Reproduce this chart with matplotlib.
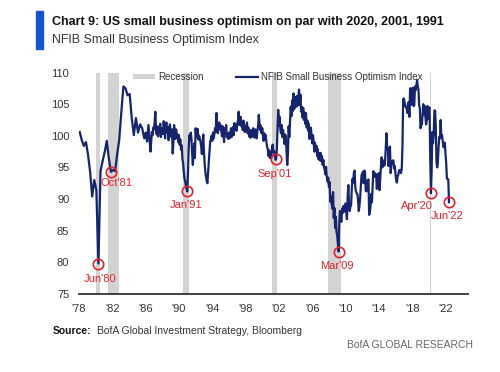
import matplotlib
matplotlib.use("Agg")
import matplotlib.pyplot as plt
from matplotlib.patches import Patch, Rectangle
from matplotlib.lines import Line2D
import numpy as np

plt.rcParams["font.family"] = ["Liberation Sans", "DejaVu Sans"]

# ---------------- data ----------------
# quarterly index 1978Q1-1985Q4
q_1978_1985 = [100.6, 99.3, 98.4, 99.0,
               97.0, 94.3, 90.4, 93.0,
               91.4, 79.8, 94.4, 96.0,
               97.4, 99.2, 96.4, 94.3,
               94.6, 94.4, 97.1, 99.4,
               103.8, 107.8, 107.5, 106.4,
               106.6, 102.8, 100.1, 102.8,
               100.5, 101.8, 101.2, 99.6]

m_1986_1995 = [100.5, 99.8, 99.1, 100.4, 101.7, 100.2, 98.9, 97.5, 99.0, 100.6, 100.1, 101.3,
               101.0, 102.2, 103.8, 100.8, 100.2, 101.5, 99.9, 101.4, 100.6, 101.9, 99.8, 100.7,
               101.2, 100.3, 102.3, 100.9, 99.6, 101.7, 102.1, 100.5, 101.4, 99.3, 100.9, 101.8,
               100.6, 99.8, 101.0, 97.2, 99.1, 101.7, 100.4, 99.5, 101.0, 99.7, 100.2, 99.0,
               100.1, 98.6, 99.4, 97.8, 98.5, 96.3, 95.7, 94.2, 93.2, 92.8, 92.1, 91.6,
               91.2, 94.2, 97.9, 100.1, 99.4, 100.5, 99.6, 97.2, 95.4, 97.0, 98.8, 96.5,
               101.2, 99.8, 100.5, 101.1, 99.4, 100.0, 99.6, 99.1, 98.3, 97.1, 98.5, 100.2,
               97.5, 95.6, 94.3, 93.5, 92.8, 92.5, 94.1, 95.9, 97.6, 99.1, 99.4, 100.0,
               99.2, 100.5, 99.6, 100.3, 101.2, 100.6, 103.6, 101.5, 100.4, 101.3, 102.1, 101.0,
               101.7, 100.8, 99.9, 101.5, 100.4, 99.0, 101.2, 100.3, 101.7, 99.8, 100.1, 99.5]

m_1996_2005 = [100.5, 99.6, 100.3, 101.2, 99.8, 100.7, 101.4, 100.1, 102.0, 100.9, 101.6, 100.8,
               101.9, 102.4, 103.8, 101.7, 102.6, 103.0, 101.5, 102.1, 100.9, 102.4, 101.0, 100.6,
               101.6, 100.9, 102.1, 100.4, 101.3, 99.9, 100.6, 99.7, 100.9, 99.8, 100.5, 101.2,
               100.3, 99.7, 101.0, 100.2, 99.6, 100.8, 101.5, 103.3, 102.0, 100.9, 101.6, 100.4,
               101.2, 100.1, 99.2, 100.4, 99.6, 100.1, 99.0, 98.2, 97.9, 96.8, 97.7, 96.5,
               97.3, 96.5, 97.9, 98.6, 97.4, 97.6, 97.1, 96.2, 96.3, 97.9, 101.2, 104.1,
               101.6, 103.0, 101.1, 100.4, 101.7, 99.8, 100.9, 99.9, 98.7, 100.2, 99.9, 97.4,
               95.4, 97.2, 101.5, 99.8, 102.3, 104.6, 103.1, 105.6, 103.9, 106.7, 104.2, 105.9,
               106.1, 104.6, 106.3, 104.8, 105.9, 107.3, 104.9, 106.5, 103.8, 104.6, 102.9, 104.4,
               102.5, 103.7, 101.9, 103.6, 101.3, 102.4, 100.8, 101.9, 99.5, 100.6, 101.3, 100.2]

m_2006_2015 = [98.8, 100.1, 99.2, 97.5, 98.9, 97.6, 98.4, 96.8, 97.9, 96.3, 97.2, 96.1,
               97.3, 96.0, 96.8, 95.4, 96.2, 95.0, 94.6, 93.9, 95.1, 93.5, 92.8, 93.4,
               91.9, 92.7, 89.6, 90.4, 89.3, 88.5, 91.1, 87.0, 88.6, 85.4, 87.2, 84.8,
               84.2, 82.9, 81.7, 86.4, 88.1, 87.0, 86.4, 88.5, 87.8, 88.9, 88.3, 88.0,
               89.3, 88.0, 86.8, 90.2, 92.2, 89.0, 88.1, 88.8, 89.0, 91.7, 93.2, 92.6,
               94.1, 94.5, 91.9, 91.2, 90.9, 90.8, 89.9, 88.1, 88.9, 90.2, 92.0, 93.8,
               93.9, 94.3, 92.5, 94.5, 94.4, 91.4, 91.2, 92.9, 92.8, 93.1, 87.5, 88.0,
               88.9, 90.8, 89.5, 92.1, 94.4, 93.5, 94.1, 94.0, 93.9, 91.6, 92.5, 93.9,
               94.1, 91.4, 93.4, 95.2, 96.6, 95.0, 95.7, 96.1, 95.3, 96.1, 98.1, 100.4,
               97.9, 98.0, 95.2, 96.9, 98.3, 94.1, 95.4, 95.9, 96.1, 96.1, 94.8, 95.2]

m_2016_2022 = [93.9, 92.9, 92.6, 93.6, 93.8, 94.5, 94.6, 94.4, 94.1, 94.9, 98.4, 105.8,
               105.9, 105.3, 104.7, 104.5, 104.5, 103.6, 105.2, 105.3, 103.0, 107.5, 107.5, 104.9,
               106.9, 107.6, 104.7, 104.8, 107.8, 107.2, 107.9, 108.8, 107.9, 107.4, 104.8, 104.4,
               101.2, 101.7, 101.8, 103.5, 105.0, 103.3, 104.7, 103.1, 101.8, 102.4, 104.7, 102.7,
               104.3, 104.5, 96.4, 90.9, 94.4, 100.6, 98.8, 100.2, 104.0, 104.0, 101.4, 95.9,
               95.0, 95.8, 98.2, 99.8, 99.6, 102.5, 99.7, 100.1, 99.1, 98.2, 98.4, 98.9,
               97.1, 95.7, 93.2, 93.2, 93.1, 89.5]

rec_start = [1980.00, 1981.50, 1990.50, 2001.17, 2007.92, 2020.08]
rec_end = [1980.50, 1982.83, 1991.17, 2001.83, 2009.42, 2020.25]

ann_labels = ["Jun'80", "Oct'81", "Jan'91", "Sep'01", "Mar'09", "Apr'20", "Jun'22"]
ann_dates = [1980.33, 1981.83, 1991.00, 2001.67, 2009.17, 2020.25, 2022.42]

xtick_years = list(range(1978, 2023, 4))
ytick_vals = [75, 80, 85, 90, 95, 100, 105, 110]

# ------------- build series -------------
q_dates = [1978 + i * 0.25 + 1 / 12 for i in range(len(q_1978_1985))]
monthly = m_1986_1995 + m_1996_2005 + m_2006_2015 + m_2016_2022
m_dates = [1986 + i / 12 for i in range(len(monthly))]
dates = np.array(q_dates + m_dates)
values = np.array(q_1978_1985 + monthly)

# ------------- figure -------------
NAVY = "#15246b"
RED = "#e3202b"
GREY_BAND = "#d3d3d3"
W, H = 500, 372

fig = plt.figure(figsize=(5.0, 3.72), dpi=100)
fig.patch.set_facecolor("white")
ax = fig.add_axes([0.158, 0.21, 0.778, 0.595])
renderer = fig.canvas.get_renderer()


def fit_text(x_px, y_px, s, width_px, size, ha="left", **kw):
    t = fig.text(x_px / W, 1 - y_px / H, s, fontsize=size, va="center", ha=ha, **kw)
    w = t.get_window_extent(renderer).width
    t.set_fontsize(size * width_px / w)
    return t


for s, e in zip(rec_start, rec_end):
    ax.axvspan(s, e, color=GREY_BAND, lw=0, zorder=1)

ax.plot(dates, values, color=NAVY, lw=1.6, zorder=3, solid_joinstyle="round")

offsets = [(1, -11), (4, -8), (-1, -10), (-1, -11), (-1, -10.5), (-10, -9), (-1, -10)]
for lab, d, off in zip(ann_labels, ann_dates, offsets):
    i = int(np.argmin(np.abs(dates - d)))
    ax.plot(dates[i], values[i], "o", ms=7.5, mfc="none", mec=RED, mew=1.2, zorder=4)
    ax.annotate(lab, (dates[i], values[i]), xytext=off, textcoords="offset points",
                ha="center", va="center", color=RED, fontsize=8, zorder=5)

ax.set_xlim(1978.0, 2024.7)
ax.set_ylim(75, 110)
ax.set_xticks(xtick_years)
ax.set_xticklabels(["'" + str(y)[2:] for y in xtick_years])
ax.set_yticks(ytick_vals)
ax.tick_params(axis="both", length=0, labelsize=8, colors="#333333")
ax.tick_params(axis="x", pad=7)
ax.tick_params(axis="y", pad=7)
for sp in ["top", "right", "left"]:
    ax.spines[sp].set_visible(False)
ax.spines["bottom"].set_color("#333333")
ax.spines["bottom"].set_linewidth(1.3)

# legend
handles = [Patch(facecolor=GREY_BAND, edgecolor="none"),
           Line2D([0], [0], color=NAVY, lw=1.6)]
leg = ax.legend(handles, ["Recession", "NFIB Small Business Optimism Index"],
                loc="upper left", bbox_to_anchor=(0.13, 1.02), ncol=2, frameon=False,
                fontsize=7, handlelength=2.2, handleheight=0.5, columnspacing=3.4,
                handletextpad=0.3, borderaxespad=0)
for t in leg.get_texts():
    t.set_color("#333333")

# header
fig.patches.append(Rectangle((36 / W, 1 - 48.5 / H), 7 / W, 37.5 / H,
                             transform=fig.transFigure, color="#1555c9", zorder=5))
fit_text(52, 22.5, "Chart 9: US small business optimism on par with 2020, 2001, 1991",
         393, 10, fontweight="bold", color="#111111")
fit_text(52, 40.5, "NFIB Small Business Optimism Index", 206, 10, color="#333333")

# footer
src = fig.text(53 / W, 1 - 330.5 / H, "Source:", fontsize=7.5, fontweight="bold",
               color="#111111", va="center", ha="left")
sx = src.get_window_extent(renderer).x1
fig.text((sx + 5) / W, 1 - 330.5 / H, "BofA Global Investment Strategy, Bloomberg",
         fontsize=7.5, color="#333333", va="center", ha="left")
fig.text(473 / W, 1 - 345 / H, "BofA GLOBAL RESEARCH", fontsize=7.5, color="#666666",
         va="center", ha="right")

fig.savefig("out.png", dpi=100, facecolor="white")
